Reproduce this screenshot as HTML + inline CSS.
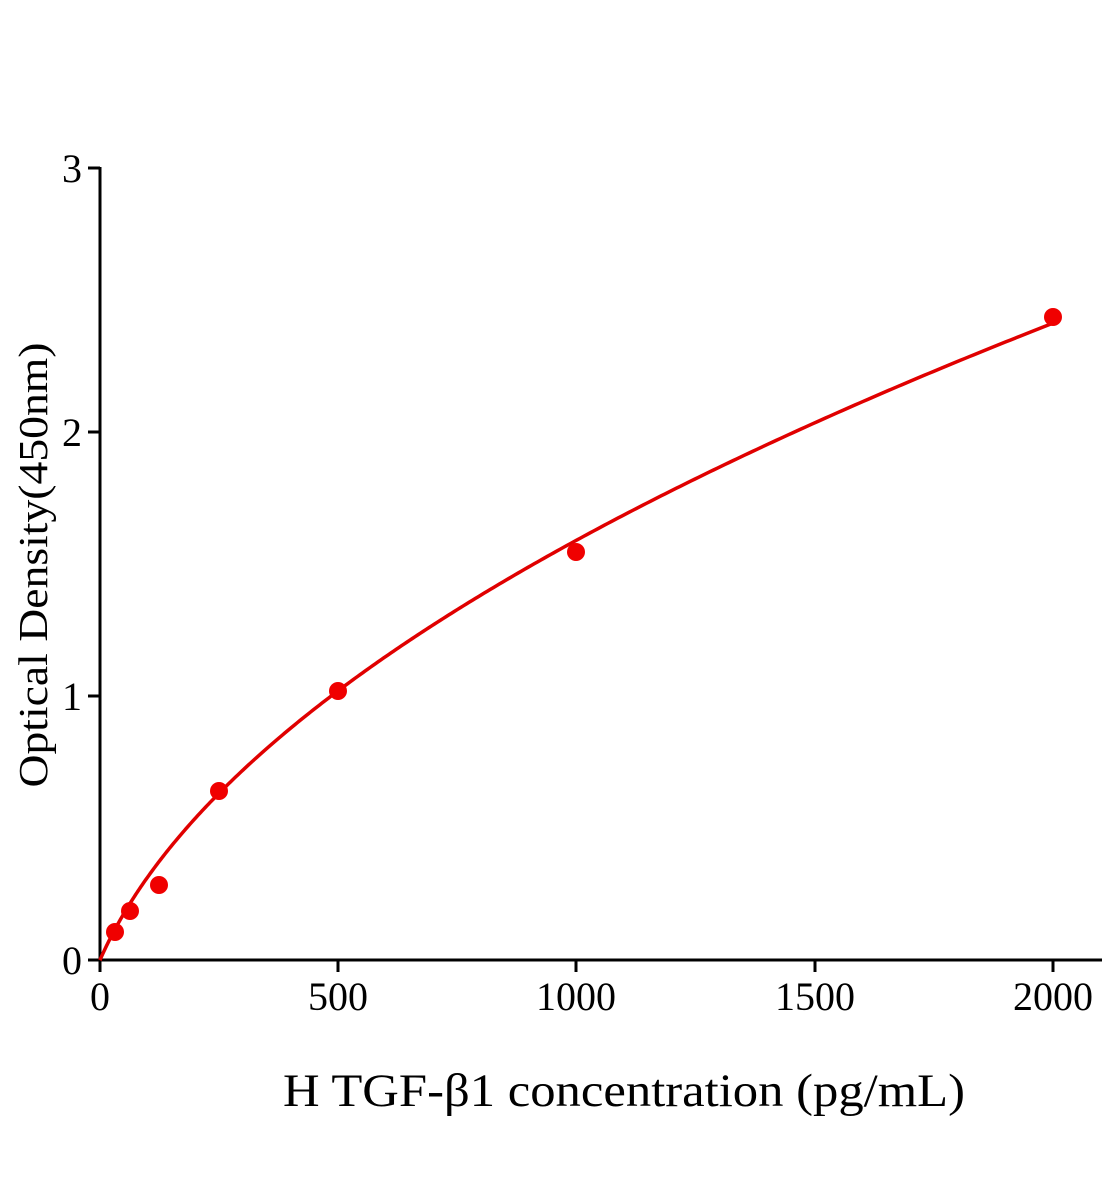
<!DOCTYPE html>
<html><head><meta charset="utf-8"><style>html,body{margin:0;padding:0;background:#fff}svg{display:block}</style></head>
<body>
<svg width="1104" height="1200" viewBox="0 0 1104 1200" xmlns="http://www.w3.org/2000/svg" font-family="'Liberation Serif', serif">
<g stroke="#000" stroke-width="3" fill="none">
<line x1="100" y1="167" x2="100" y2="961"/>
<line x1="99" y1="960" x2="1102" y2="960"/>
<line x1="88" y1="168" x2="100" y2="168"/>
<line x1="88" y1="432" x2="100" y2="432"/>
<line x1="88" y1="696" x2="100" y2="696"/>
<line x1="88" y1="960" x2="100" y2="960"/>
<line x1="100" y1="960" x2="100" y2="972"/>
<line x1="338" y1="960" x2="338" y2="972"/>
<line x1="576" y1="960" x2="576" y2="972"/>
<line x1="815" y1="960" x2="815" y2="972"/>
<line x1="1053" y1="960" x2="1053" y2="972"/>
</g>
<g font-size="40" text-anchor="end">
<text x="82" y="182">3</text>
<text x="82" y="446">2</text>
<text x="82" y="710">1</text>
<text x="82" y="974">0</text>
</g>
<g font-size="40" text-anchor="middle">
<text x="100" y="1010">0</text>
<text x="338" y="1010">500</text>
<text x="576" y="1010">1000</text>
<text x="815" y="1010">1500</text>
<text x="1053" y="1010">2000</text>
</g>
<text x="0" y="0" font-size="41" text-anchor="middle" transform="translate(47,565) rotate(-90)" textLength="445" lengthAdjust="spacingAndGlyphs">Optical Density(450nm)</text>
<text x="624" y="1106" font-size="47" text-anchor="middle" textLength="682" lengthAdjust="spacingAndGlyphs">H TGF-β1 concentration (pg/mL)</text>
<path id="curve" fill="none" stroke="#e00000" stroke-width="3.5"/>
<g fill="#f00000">
<circle cx="115" cy="932" r="9"/>
<circle cx="130" cy="911" r="9"/>
<circle cx="159" cy="885" r="9"/>
<circle cx="219" cy="791" r="9"/>
<circle cx="338" cy="691" r="9"/>
<circle cx="576" cy="552" r="9"/>
<circle cx="1053" cy="317" r="9"/>
</g>
</svg>
<script>
(function(){
var d="";
for(var i=0;i<=400;i++){var x=2000*Math.pow(i/400,2);var y=0.4964*(Math.sqrt(1+x/60)-1);
var px=100+x*0.4765,py=960-y*264;d+=(i?"L":"M")+px.toFixed(2)+" "+py.toFixed(2);}
document.getElementById("curve").setAttribute("d",d);
})();
</script>
</body></html>
